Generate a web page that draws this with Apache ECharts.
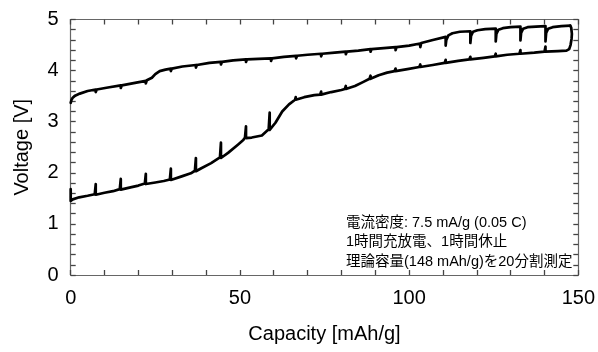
<!DOCTYPE html>
<html>
<head>
<meta charset="utf-8">
<script src="https://cdn.jsdelivr.net/npm/echarts@6/dist/echarts.min.js"></script>
<style>
  html, body { margin: 0; padding: 0; background: #fff; }
  #chart { width: 598px; height: 352px; }
</style>
</head>
<body>
<div id="chart"></div>
<script>
// 充電 (上側) : [容量 mAh/g, 電圧 V]
const chargeCurve = [
  [0, 3.37], [0.2, 3.42], [0.6, 3.47], [1.3, 3.51], [2.7, 3.55], [5, 3.6], [7.4, 3.63],
  [7.4, 3.58], [7.7, 3.63], [11, 3.67], [14.8, 3.71],
  [14.8, 3.66], [15.1, 3.71], [19, 3.76], [22.2, 3.8],
  [22.2, 3.75], [22.5, 3.81], [24, 3.86], [25, 3.93], [26.3, 3.99], [28, 4.02], [29.6, 4.04],
  [29.6, 3.99], [29.9, 4.04], [33, 4.08], [37, 4.11],
  [37, 4.06], [37.3, 4.11], [41, 4.15], [44.4, 4.17],
  [44.4, 4.12], [44.7, 4.17], [48, 4.2], [51.8, 4.22],
  [51.8, 4.17], [52.1, 4.22], [55.5, 4.23], [59.2, 4.24],
  [59.2, 4.19], [59.5, 4.24], [63, 4.27], [66.6, 4.29],
  [66.6, 4.24], [66.9, 4.29], [70, 4.31], [74, 4.33],
  [74, 4.28], [74.3, 4.33], [78, 4.35], [81.3, 4.37],
  [81.3, 4.32], [81.6, 4.37], [85, 4.39], [88.6, 4.42],
  [88.6, 4.37], [88.9, 4.42], [92.5, 4.44], [96, 4.46],
  [96, 4.4], [96.3, 4.46], [100, 4.49], [103.3, 4.53],
  [103.3, 4.46], [103.6, 4.54], [107, 4.6], [110.8, 4.66],
  [110.8, 4.49], [111.0, 4.6], [111.6, 4.69], [112.8, 4.73], [115, 4.76], [118.1, 4.77],
  [118.1, 4.54], [118.3, 4.68], [118.9, 4.76], [120.2, 4.79], [122.5, 4.81], [125.6, 4.82],
  [125.6, 4.57], [125.8, 4.72], [126.4, 4.8], [127.7, 4.83], [130, 4.85], [132.9, 4.86],
  [132.9, 4.59], [133.1, 4.74], [133.7, 4.82], [135, 4.85], [137.5, 4.86], [140.3, 4.87],
  [140.3, 4.57], [140.5, 4.74], [141.1, 4.82], [142.4, 4.85], [145, 4.87], [147.6, 4.88]
];

// 放電 (下側) : 左から右へ並べた [容量 mAh/g, 電圧 V]
const dischargeCurve = [
  [0, 1.68], [0, 1.45], [0.6, 1.48], [2.5, 1.52], [5, 1.55], [7.1, 1.58],
  [7.4, 1.78], [7.4, 1.57], [10, 1.61], [12.5, 1.64], [14.5, 1.68],
  [14.8, 1.88], [14.8, 1.67], [18, 1.72], [20, 1.75], [21.9, 1.79],
  [22.2, 1.98], [22.2, 1.78], [25, 1.81], [27.5, 1.84], [29.3, 1.87],
  [29.6, 2.08], [29.6, 1.86], [32.8, 1.93], [35.5, 1.99], [36.7, 2.04],
  [37, 2.29], [37, 2.03], [38.6, 2.09], [41.5, 2.19], [44.1, 2.3],
  [44.4, 2.59], [44.4, 2.29], [46.5, 2.39], [49.4, 2.55], [51, 2.64], [51.5, 2.69],
  [51.8, 2.91], [51.8, 2.68], [53.5, 2.69], [56.5, 2.73], [58.5, 2.85],
  [58.8, 3.18], [58.8, 2.84], [60.5, 2.98], [62.5, 3.2], [64.5, 3.34], [66.3, 3.43],
  [66.5, 3.48], [66.5, 3.43], [69, 3.48], [72, 3.52], [73.7, 3.53],
  [74, 3.59], [74, 3.53], [77, 3.58], [80, 3.62], [81, 3.64],
  [81.3, 3.7], [81.3, 3.64], [84, 3.7], [86.5, 3.78], [88.3, 3.84],
  [88.6, 3.9], [88.6, 3.84], [91, 3.91], [93.5, 3.96], [95.7, 3.99],
  [96, 4.04], [96, 3.99], [99.5, 4.03], [103, 4.07],
  [103.3, 4.12], [103.3, 4.07], [107, 4.11], [110.5, 4.15],
  [110.8, 4.21], [110.8, 4.15], [114.5, 4.19], [117.8, 4.22],
  [118.1, 4.27], [118.1, 4.22], [122, 4.25], [125.3, 4.28],
  [125.6, 4.33], [125.6, 4.28], [129, 4.31], [132.6, 4.33],
  [132.9, 4.4], [132.9, 4.33], [137, 4.35], [140, 4.37],
  [140.3, 4.47], [140.3, 4.37], [144, 4.38], [146.5, 4.39],
  [147.3, 4.42], [147.7, 4.5], [148, 4.62], [148.1, 4.72], [147.9, 4.84], [147.6, 4.88]
];

const noteLines = [
  '電流密度: 7.5 mA/g (0.05 C)',
  '1時間充放電、1時間休止',
  '理論容量(148 mAh/g)を20分割測定'
];

const font = '"Liberation Sans", Arial, "Noto Sans CJK JP", sans-serif';
const frameColor = '#666';
const tickColor = '#444';

const chart = echarts.init(document.getElementById('chart'));

// 四辺とも内向きの目盛り
function frameAxis(extra) {
  return Object.assign({
    type: 'value',
    axisLine: { show: true, onZero: false, lineStyle: { color: frameColor, width: 1.2 } },
    axisTick: { show: true, inside: true, length: 5, lineStyle: { color: tickColor, width: 1.3 } },
    minorTick: { show: true, splitNumber: 5, length: 5, lineStyle: { color: tickColor, width: 1.3 } },
    splitLine: { show: false }
  }, extra);
}

const option = {
  animation: false,
  backgroundColor: '#fff',
  grid: { left: 70.7, right: 17.3, top: 19.5, bottom: 77 },
  xAxis: [
    frameAxis({
      min: 0, max: 150, interval: 50, position: 'bottom',
      name: 'Capacity [mAh/g]', nameLocation: 'middle', nameGap: 49,
      nameTextStyle: { fontFamily: font, fontSize: 20, color: '#000' },
      axisLabel: { fontFamily: font, fontSize: 20, color: '#000', margin: 13 }
    }),
    frameAxis({
      min: 0, max: 150, interval: 50, position: 'top',
      axisLabel: { show: false }
    })
  ],
  yAxis: [
    frameAxis({
      min: 0, max: 5, interval: 1, position: 'left',
      name: 'Voltage [V]', nameLocation: 'middle', nameGap: 38,
      nameTextStyle: { fontFamily: font, fontSize: 20, color: '#000' },
      axisLabel: { fontFamily: font, fontSize: 20, color: '#000', margin: 12 }
    }),
    frameAxis({
      min: 0, max: 5, interval: 1, position: 'right',
      axisLabel: { show: false }
    })
  ],
  series: [
    {
      name: 'charge', type: 'line', data: chargeCurve, xAxisIndex: 0, yAxisIndex: 0,
      showSymbol: false, symbol: 'none', clip: false,
      lineStyle: { color: '#000', width: 2.7, cap: 'round', join: 'round' }
    },
    {
      name: 'discharge', type: 'line', data: dischargeCurve, xAxisIndex: 0, yAxisIndex: 0,
      showSymbol: false, symbol: 'none', clip: false,
      lineStyle: { color: '#000', width: 2.7, cap: 'round', join: 'round' }
    }
  ],
  graphic: [{
    type: 'text', left: 346, top: 213,
    style: {
      text: noteLines.join('\n'),
      font: '14.5px ' + font,
      fill: '#000',
      lineHeight: 19.5
    }
  }]
};

chart.setOption(option);
</script>
</body>
</html>
